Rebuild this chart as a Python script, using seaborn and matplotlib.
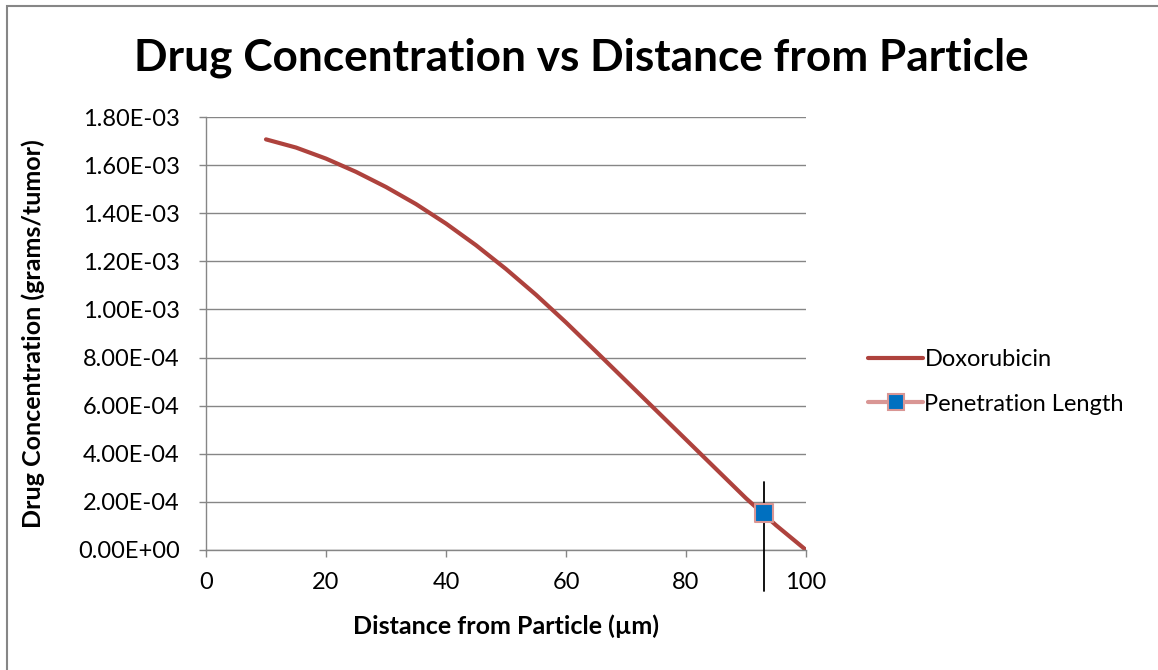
import numpy as np
import pandas as pd
import matplotlib
matplotlib.use("Agg")
import matplotlib.pyplot as plt
from matplotlib.lines import Line2D
from matplotlib.patches import Rectangle
from matplotlib.ticker import FuncFormatter, MultipleLocator
import seaborn as sns

# datos (distancia en um, concentracion en g/tumor)
distancia = [10, 15, 20, 25, 30, 35, 40, 45, 50, 55, 60, 65, 70, 75, 80, 85, 90, 95, 100]
concentracion = [1.707e-3, 1.673e-3, 1.627e-3, 1.572e-3, 1.509e-3, 1.438e-3, 1.357e-3,
                 1.267e-3, 1.168e-3, 1.061e-3, 0.946e-3, 0.825e-3, 0.703e-3, 0.581e-3,
                 0.459e-3, 0.337e-3, 0.215e-3, 0.103e-3, 0.0]
penetracion_x = [93]
penetracion_y = [1.55e-4]
linea_vertical_y = [2.83e-4, -1.70e-4]

color_doxo = "#AE423D"
color_rosa = "#D99694"
color_azul = "#0070C0"
gris = "#868686"

df = pd.DataFrame({"distancia": distancia, "concentracion": concentracion})
df_pen = pd.DataFrame({"distancia": penetracion_x, "concentracion": penetracion_y})

sns.set_style("white")
plt.rcParams["font.family"] = ["Lato", "DejaVu Sans"]
plt.rcParams["text.color"] = "black"
plt.rcParams["axes.labelcolor"] = "black"

fig = plt.figure(figsize=(11.58, 6.70), dpi=100)
ax = fig.add_axes([206 / 1158, 120 / 670, 600 / 1158, 433 / 670])

sns.lineplot(data=df, x="distancia", y="concentracion", ax=ax, color=color_doxo,
             linewidth=3.0, legend=False)
# linea vertical que marca la longitud de penetracion
ax.plot([penetracion_x[0], penetracion_x[0]], linea_vertical_y, color="black",
        linewidth=1.3, clip_on=False, zorder=4)
sns.scatterplot(data=df_pen, x="distancia", y="concentracion", ax=ax, marker="s",
                s=180, color=color_azul, edgecolor=color_rosa, linewidth=1.5,
                legend=False, zorder=5, clip_on=False)

ax.set_xlim(0, 100)
ax.set_ylim(0, 1.8e-3)
ax.xaxis.set_major_locator(MultipleLocator(20))
ax.yaxis.set_major_locator(MultipleLocator(2e-4))
ax.yaxis.set_major_formatter(FuncFormatter(lambda v, p: f"{v:.2E}"))
ax.grid(axis="y", color=gris, linewidth=1.0)
ax.grid(axis="x", visible=False)
for s in ["top", "right"]:
    ax.spines[s].set_visible(False)
for s in ["left", "bottom"]:
    ax.spines[s].set_color(gris)
    ax.spines[s].set_linewidth(1.0)
ax.tick_params(axis="both", direction="out", length=5, width=1.0, color=gris,
               labelsize=17, labelcolor="black", left=True, bottom=True)
ax.tick_params(axis="y", pad=14)
ax.tick_params(axis="x", pad=11)

ax.set_xlabel("Distance from Particle (µm)", fontsize=18, fontweight="bold", labelpad=15)
ax.set_ylabel("Drug Concentration (grams/tumor)", fontsize=18, fontweight="bold")
ax.yaxis.set_label_coords(-0.268, 0.5)

fig.text(0.502, 1 - 58 / 670, "Drug Concentration vs Distance from Particle",
         ha="center", va="center", fontsize=31.8, fontweight="bold")

handles = [
    Line2D([0], [0], color=color_doxo, linewidth=3.0),
    Line2D([0], [0], color=color_rosa, linewidth=3.0, marker="s", markersize=12,
           markerfacecolor=color_azul, markeredgecolor=color_rosa, markeredgewidth=1.5),
]
fig.legend(handles, ["Doxorubicin", "Penetration Length"], loc="center left",
           bbox_to_anchor=(847 / 1158, 1 - 382 / 670), frameon=False, fontsize=17,
           handlelength=2.33, handletextpad=0.05, labelspacing=0.99)

# borde del area del grafico
fig.patches.append(Rectangle((7.5 / 1158, -0.05), 1.2, 1 - 5.5 / 670 + 0.05,
                             transform=fig.transFigure, fill=False,
                             edgecolor=gris, linewidth=1.5))

fig.savefig("out.png", dpi=100)
